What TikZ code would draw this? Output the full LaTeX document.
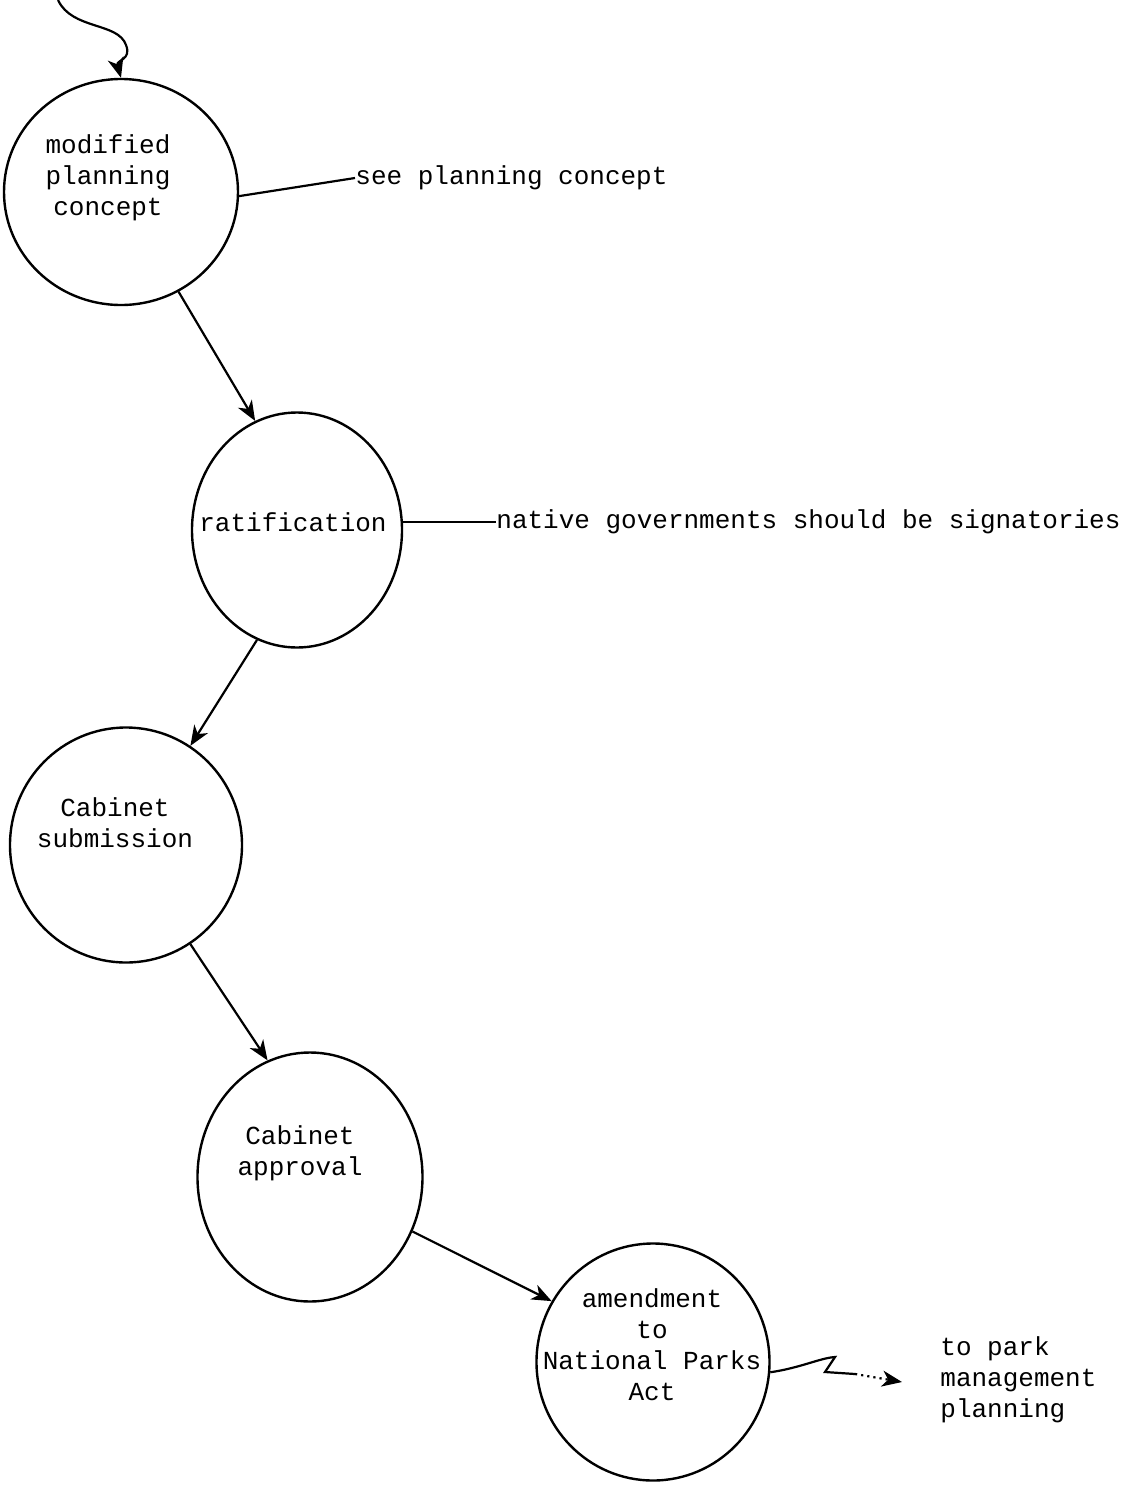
\documentclass[tikz,border=0pt]{standalone}
\usepackage{fontspec}
\setmonofont{Liberation Mono}
\usetikzlibrary{shapes.geometric,arrows.meta}
\begin{document}
\begin{tikzpicture}[x=0.5pt,y=-0.5pt,
  stage/.style={draw,ellipse,line width=1.2pt,inner sep=0pt},
  label/.style={font=\ttfamily\fontsize{13}{15.5}\selectfont,align=center,inner sep=0pt},
  note/.style={label,anchor=west,align=left},
  flow/.style={-{Stealth[length=10pt,width=8pt,inset=3pt]},line width=1.1pt},
  link/.style={line width=1.1pt}]
\useasboundingbox (0,0) rectangle (1128,1489);

% stages of the process
\node[stage,minimum width=117pt,minimum height=113pt] (n1) at (121,192) {};
\node[stage,minimum width=105pt,minimum height=117.5pt] (n2) at (297,530) {};
\node[stage,minimum width=116pt,minimum height=117.5pt] (n3) at (126,845) {};
\node[stage,minimum width=112.5pt,minimum height=124.5pt] (n4) at (310,1177) {};
\node[stage,minimum width=116.5pt,minimum height=118.5pt] (n5) at (653,1362) {};

% texts inside the stages
\node[label] (t1) at (108,178) {modified\\planning\\concept};
\node[label] (t2) at (293,522) {ratification};
\node[label] (t3) at (115,823) {Cabinet\\submission};
\node[label] (t4) at (300,1153) {Cabinet\\approval};
\node[label] (t5) at (652,1345) {amendment\\to\\National Parks\\Act};

% side notes
\node[note] (see) at (355,178) {see planning concept};
\node[note] (native) at (496,522) {native governments should be signatories};
\node[note] (park) at (940,1380) {to park\\management\\planning};

% incoming flow
\coordinate (src) at (58,0);
\draw[flow] (src) .. controls (72,30) and (118,22) .. (126,45)
  .. controls (132,60) and (116,60) .. (n1.north);

% main sequence
\draw[flow] (n1.-60) -- (n2.111);
\draw[flow] (n2.-110) -- (n3.57);
\draw[flow] (n3.-57) -- (n4.110);
\draw[flow] (n4.-28) -- (n5.149);

% notes attached to stages
\draw[link] (n1.-2) -- (see.west);
\draw[link] (native.west -| n2.east) -- (native.west);

% outgoing flow
\coordinate (sq) at (855,1374);
\coordinate (tip) at (902,1382);
\draw[link] (n5.-5) .. controls (800,1368) and (820,1358) .. (835,1357)
  -- (825,1372) -- (sq);
\draw[flow,dotted] (sq) -- (tip);
\end{tikzpicture}
\end{document}
